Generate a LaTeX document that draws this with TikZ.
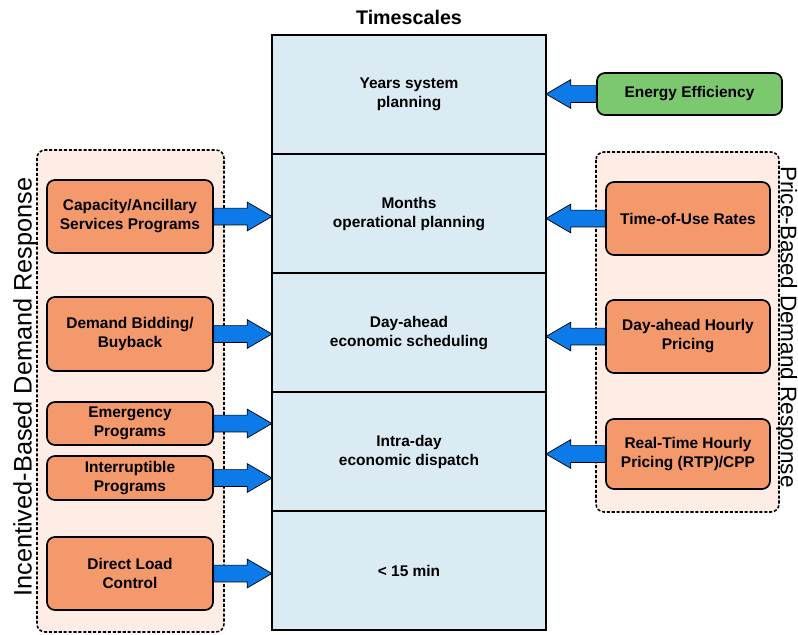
\documentclass[tikz,border=0pt]{standalone}
\usepackage{fontspec}
\setmainfont{Liberation Sans}
\usetikzlibrary{positioning,calc}
\definecolor{drorange}{RGB}{244,153,108}
\definecolor{drgreen}{RGB}{124,200,110}
\definecolor{drpeach}{RGB}{253,237,229}
\definecolor{tsblue}{RGB}{219,235,243}
\definecolor{arrowblue}{RGB}{12,122,232}

\tikzset{
  timebox/.style={draw, line width=1.4pt, outer sep=0pt, fill=tsblue,
    minimum width=6.85cm, minimum height=2.975cm, align=center,
    font=\fontsize{11}{13.5}\selectfont\bfseries},
  progbox/.style={draw, line width=1.2pt, rounded corners=0.2cm, fill=drorange,
    inner sep=1pt, minimum width=4.15cm, align=center,
    font=\fontsize{11}{13.5}\selectfont\bfseries},
  groupbox/.style={draw, dash pattern=on 2.2pt off 1.3pt, line width=1.1pt,
    rounded corners=0.2cm, fill=drpeach},
  fatarrowstyle/.style={fill=arrowblue, draw=black, line width=0.5pt, line join=miter}
}

% thick block arrow from a box to the timescale column
\newcommand{\fatarrow}[2]{%
  \coordinate (fa-s) at (#1);
  \coordinate (fa-t) at (#2 |- #1);
  \coordinate (fa-h) at ($(fa-t)!0.62cm!(fa-s)$);
  \draw[fatarrowstyle] ($(fa-s)+(0cm,0.21cm)$) -- ($(fa-h)+(0cm,0.21cm)$)
    -- ($(fa-h)+(0cm,0.36cm)$) -- (fa-t) -- ($(fa-h)+(0cm,-0.36cm)$)
    -- ($(fa-h)+(0cm,-0.21cm)$) -- ($(fa-s)+(0cm,-0.21cm)$) -- cycle;
}

\begin{document}
\begin{tikzpicture}[x=0.025cm, y=-0.025cm]
\useasboundingbox (0,0) rectangle (798,634);

% grouping areas
\draw[groupbox] (37,150) rectangle (224,632);
\draw[groupbox] (596,152) rectangle (779,512);

% timescale column
\node[font=\fontsize{14}{16}\selectfont\bfseries] (title) at (409,17) {Timescales};
\node[timebox, anchor=north] (years) at (409,35) {Years system\\planning};
\node[timebox, below=0pt of years] (months) {Months\\operational planning};
\node[timebox, below=0pt of months] (dayahead) {Day-ahead\\economic scheduling};
\node[timebox, below=0pt of dayahead] (intraday) {Intra-day\\economic dispatch};
\node[timebox, below=0pt of intraday] (minutes) {< 15 min};

% incentive-based programs
\node[progbox, minimum height=1.825cm] (capacity) at (130,216.5) {Capacity/Ancillary\\Services Programs};
\node[progbox, minimum height=1.85cm] (bidding) at (130,334) {Demand Bidding/\\Buyback};
\node[progbox, minimum height=1.075cm] (emergency) at (130,423.5) {Emergency\\Programs};
\node[progbox, minimum height=1.1cm] (interrupt) at (130,478) {Interruptible\\Programs};
\node[progbox, minimum height=1.825cm] (dlc) at (130,573.5) {Direct Load\\Control};

% price-based programs
\node[progbox, fill=drgreen, minimum width=4.625cm, minimum height=1.05cm] (efficiency) at (689.5,94) {Energy Efficiency};
\node[progbox, minimum width=4.1cm, minimum height=1.825cm] (tou) at (688,218.5) {Time-of-Use Rates};
\node[progbox, minimum width=4.1cm, minimum height=1.825cm] (dahourly) at (688,336.5) {Day-ahead Hourly\\Pricing};
\node[progbox, minimum width=4.1cm, minimum height=1.75cm] (rtp) at (688,454) {Real-Time Hourly\\Pricing (RTP)/CPP};

% side labels
\node[rotate=90, font=\fontsize{18}{20}\selectfont] (incentive) at (25,387) {Incentived-Based Demand Response};
\node[rotate=-90, anchor=north, inner sep=0pt, font=\fontsize{16}{18}\selectfont] (price) at (797.5,327) {Price-Based Demand Response};

% arrows
\fatarrow{capacity.east}{months.west}
\fatarrow{bidding.east}{dayahead.west}
\fatarrow{emergency.east}{intraday.west}
\fatarrow{interrupt.east}{intraday.west}
\fatarrow{dlc.east}{minutes.west}
\fatarrow{efficiency.west}{years.east}
\fatarrow{tou.west}{months.east}
\fatarrow{dahourly.west}{dayahead.east}
\fatarrow{rtp.west}{intraday.east}
\end{tikzpicture}
\end{document}
